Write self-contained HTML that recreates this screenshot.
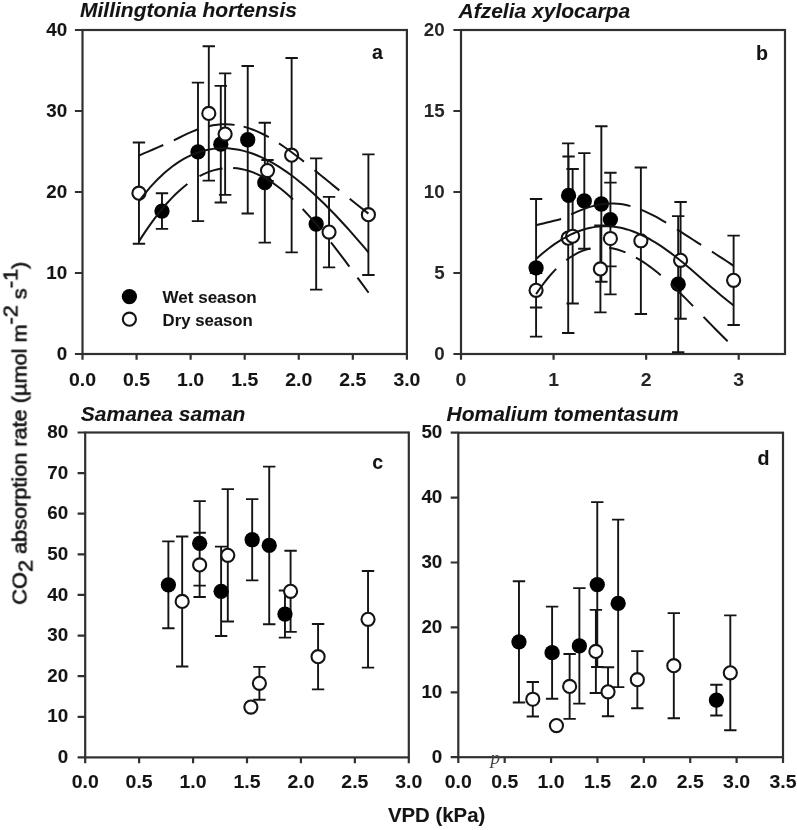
<!DOCTYPE html>
<html lang="en">
<head>
<meta charset="utf-8">
<title>CO2 absorption rate vs VPD</title>
<style>
html,body{margin:0;padding:0;background:#fff;}
body{width:797px;height:830px;overflow:hidden;}
svg{display:block;}
svg text{font-family:"Liberation Sans",Arial,Helvetica,sans-serif;font-weight:bold;fill:#141414;stroke:#141414;stroke-width:0.08px;}
.tk text{font-size:18.8px;}
svg .tb text{stroke:none;fill:#262626;}
.ti{font-size:21.0px;font-style:italic;}
.lt{font-size:19.6px;}
.lg{font-size:17.0px;}
.lb{font-size:19.9px;}
svg text.yl{font-size:20px;font-weight:normal;stroke:#141414;stroke-width:0.62px;}
svg text.pp{font-family:"Liberation Serif","Times New Roman",serif;font-style:italic;font-weight:normal;font-size:19px;fill:#444;stroke:none;}
#plot{filter:blur(0.5px);}
</style>
</head>
<body>
<svg width="797" height="830" viewBox="0 0 797 830">
<rect width="797" height="830" fill="#fff"/>
<g id="plot">
<rect x="82.5" y="30" width="324.4" height="324" fill="none" stroke="#303030" stroke-width="2.2"/>
<path d="M82.5 354V359.8M136.57 354V359.8M190.63 354V359.8M244.7 354V359.8M298.77 354V359.8M352.83 354V359.8M406.9 354V359.8M82.5 354H74.9M82.5 273H74.9M82.5 192H74.9M82.5 111H74.9M82.5 30H74.9" stroke="#303030" stroke-width="2.2" fill="none"/>
<g class="tk" text-anchor="middle">
<text transform="translate(82.5 386) scale(1.035 1)">0.0</text>
<text transform="translate(136.57 386) scale(1.035 1)">0.5</text>
<text transform="translate(190.63 386) scale(1.035 1)">1.0</text>
<text transform="translate(244.7 386) scale(1.035 1)">1.5</text>
<text transform="translate(298.77 386) scale(1.035 1)">2.0</text>
<text transform="translate(352.83 386) scale(1.035 1)">2.5</text>
<text transform="translate(406.9 386) scale(1.035 1)">3.0</text>
</g>
<g class="tk" text-anchor="end">
<text transform="translate(67.2 359.7) scale(1.0 1)">0</text>
<text transform="translate(67.2 278.7) scale(1.0 1)">10</text>
<text transform="translate(67.2 197.7) scale(1.0 1)">20</text>
<text transform="translate(67.2 116.7) scale(1.0 1)">30</text>
<text transform="translate(67.2 35.7) scale(1.0 1)">40</text>
</g>
<text class="ti" x="80" y="17.1">Millingtonia hortensis</text>
<text class="lt" x="372" y="58.7">a</text>
<path d="M161.98 193.22V228.85M155.78 193.22H168.18M155.78 228.85H168.18M197.99 82.65V221.16M191.79 82.65H204.19M191.79 221.16H204.19M220.8 85.89V202.53M214.6 85.89H227M214.6 202.53H227M247.73 66.05V213.46M241.53 66.05H253.93M241.53 213.46H253.93M264.81 122.75V242.63M258.61 122.75H271.01M258.61 242.63H271.01M316.18 158.39V289.61M309.98 158.39H322.38M309.98 289.61H322.38M138.95 142.51V243.76M132.75 142.51H145.15M132.75 243.76H145.15M208.8 46.2V180.66M202.6 46.2H215M202.6 180.66H215M225.13 73.33V194.84M218.93 73.33H231.33M218.93 194.84H231.33M267.52 160V181.06M261.32 160H273.72M261.32 181.06H273.72M291.63 57.95V252.34M285.43 57.95H297.83M285.43 252.34H297.83M329.04 196.86V267.33M322.84 196.86H335.24M322.84 267.33H335.24M368.4 154.34V275.02M362.2 154.34H374.6M362.2 275.02H374.6" stroke="#141414" stroke-width="1.9" fill="none"/>
<circle cx="161.98" cy="211.04" r="7.65" fill="#000"/>
<circle cx="197.99" cy="151.91" r="7.65" fill="#000"/>
<circle cx="220.8" cy="144.21" r="7.65" fill="#000"/>
<circle cx="247.73" cy="139.76" r="7.65" fill="#000"/>
<circle cx="264.81" cy="182.69" r="7.65" fill="#000"/>
<circle cx="316.18" cy="224" r="7.65" fill="#000"/>
<circle cx="138.95" cy="193.13" r="6.55" fill="#fff" stroke="#141414" stroke-width="2.1"/>
<circle cx="208.8" cy="113.43" r="6.55" fill="#fff" stroke="#141414" stroke-width="2.1"/>
<circle cx="225.13" cy="134.08" r="6.55" fill="#fff" stroke="#141414" stroke-width="2.1"/>
<circle cx="267.52" cy="170.54" r="6.55" fill="#fff" stroke="#141414" stroke-width="2.1"/>
<circle cx="291.63" cy="155.15" r="6.55" fill="#fff" stroke="#141414" stroke-width="2.1"/>
<circle cx="329.04" cy="232.09" r="6.55" fill="#fff" stroke="#141414" stroke-width="2.1"/>
<circle cx="368.4" cy="214.68" r="6.55" fill="#fff" stroke="#141414" stroke-width="2.1"/>
<path d="M138.95 201.19L142.65 196.35L146.35 191.77L150.05 187.45L153.75 183.36L157.45 179.53L161.15 175.93L164.85 172.57L168.55 169.44L172.25 166.54L175.96 163.87L179.66 161.42L183.36 159.2L187.06 157.18L190.76 155.38L194.46 153.79L198.16 152.41L201.86 151.23L205.56 150.25L209.26 149.46L212.96 148.87L216.67 148.46L220.37 148.24L224.07 148.21L227.77 148.35L231.47 148.67L235.17 149.15L238.87 149.81L242.57 150.63L246.27 151.62L249.97 152.76L253.68 154.05L257.38 155.5L261.08 157.1L264.78 158.84L268.48 160.72L272.18 162.74L275.88 164.89L279.58 167.18L283.28 169.59L286.98 172.12L290.68 174.78L294.39 177.55L298.09 180.44L301.79 183.43L305.49 186.54L309.19 189.74L312.89 193.05L316.59 196.46L320.29 199.95L323.99 203.54L327.69 207.21L331.4 210.97L335.1 214.8L338.8 218.71L342.5 222.7L346.2 226.75L349.9 230.87L353.6 235.05L357.3 239.29L361 243.59L364.7 247.94L368.4 252.34" stroke="#141414" stroke-width="2.0" fill="none"/>
<path d="M138.95 155.55L143.81 153.44L148.68 151.34L153.54 149.23L158.41 147.13L163.28 145.02" stroke="#141414" stroke-width="2.0" fill="none"/>
<path d="M173.87 140.45L178.59 138L183.3 135.64L188.02 133.42L192.73 131.37L197.45 129.53M208.58 126.18L212.93 125.3L217.27 124.68L221.61 124.32L225.96 124.23L230.3 124.41L234.64 124.87M243.62 126.65L248.66 128.13L253.7 129.94L258.74 132.07L263.77 134.5L268.81 137.19M278.98 143.38L283.97 146.73L288.97 150.26L293.97 153.94L298.96 157.74L303.96 161.64M314.55 170.15L319.51 174.19L324.46 178.25L329.41 182.31L334.36 186.36L339.32 190.39M349.7 198.74L354.37 202.47L359.05 206.18L363.73 209.89L368.4 213.6" stroke="#141414" stroke-width="2.0" fill="none"/>
<path d="M138.95 241.4L142.98 235.11L147.02 229.09L151.06 223.33L155.09 217.83L159.13 212.62L163.17 207.68L167.2 203.02L171.24 198.65L175.28 194.56L179.32 190.76L183.35 187.25L187.39 184.04M199.5 176.15L204.11 173.84L208.71 171.92L213.32 170.37L217.93 169.21L222.53 168.42M233.13 168.01L237.12 168.36L241.12 168.98L245.11 169.87L249.1 171.02L253.1 172.43L257.09 174.09L261.09 175.99L265.08 178.14L269.07 180.53L273.07 183.15L277.06 185.99L281.05 189.05L285.05 192.32L289.04 195.8L293.04 199.46M302.66 209.05L308.57 215.43L314.48 222.13L320.39 229.14M330.99 242.34L335.59 248.27L340.18 254.31L344.78 260.43L349.37 266.62M357.48 277.63L363.05 285.21L368.62 292.76" stroke="#141414" stroke-width="2.0" fill="none"/>
<circle cx="129.4" cy="296.6" r="7.65" fill="#000"/>
<circle cx="129.4" cy="319.2" r="6.55" fill="#fff" stroke="#141414" stroke-width="2.1"/>
<text class="lg" x="162.6" y="302.9">Wet season</text>
<text class="lg" transform="translate(162.6 325.5) scale(0.985 1)">Dry season</text>
<rect x="461" y="30" width="324" height="324" fill="none" stroke="#303030" stroke-width="2.2"/>
<path d="M461 354V359.8M553.57 354V359.8M646.14 354V359.8M738.71 354V359.8M461 354H453.4M461 273H453.4M461 192H453.4M461 111H453.4M461 30H453.4" stroke="#303030" stroke-width="2.2" fill="none"/>
<g class="tk tb" text-anchor="middle">
<text transform="translate(461 386) scale(1.035 1)">0</text>
<text transform="translate(553.57 386) scale(1.035 1)">1</text>
<text transform="translate(646.14 386) scale(1.035 1)">2</text>
<text transform="translate(738.71 386) scale(1.035 1)">3</text>
</g>
<g class="tk tb" text-anchor="end">
<text transform="translate(444.7 359.7) scale(1.0 1)">0</text>
<text transform="translate(444.7 278.7) scale(1.0 1)">5</text>
<text transform="translate(444.7 197.7) scale(1.0 1)">10</text>
<text transform="translate(444.7 116.7) scale(1.0 1)">15</text>
<text transform="translate(444.7 35.7) scale(1.0 1)">20</text>
</g>
<text class="ti" x="458.5" y="18">Afzelia xylocarpa</text>
<text class="lt" x="756" y="60.4">b</text>
<path d="M536.08 198.97V336.67M529.88 198.97H542.28M529.88 336.67H542.28M568.57 156.52V234.28M562.37 156.52H574.77M562.37 234.28H574.77M584.31 153.12V248.7M578.11 153.12H590.51M578.11 248.7H590.51M601.34 126.23V281.75M595.14 126.23H607.54M595.14 281.75H607.54M610.41 172.72V266.36M604.21 172.72H616.61M604.21 266.36H616.61M678.17 216.14V352.22M671.97 216.14H684.37M671.97 352.22H684.37M536.08 273.16V307.51M529.88 273.16H542.28M529.88 307.51H542.28M568.2 143.4V332.94M562 143.4H574.4M562 332.94H574.4M572.64 169V303.46M566.44 169H578.84M566.44 303.46H578.84M600.41 225.53V312.37M594.21 225.53H606.61M594.21 312.37H606.61M610.41 182.6V294.38M604.21 182.6H616.61M604.21 294.38H616.61M640.87 167.54V313.99M634.67 167.54H647.07M634.67 313.99H647.07M680.58 202.04V318.68M674.38 202.04H686.78M674.38 318.68H686.78M733.62 235.58V325M727.42 235.58H739.82M727.42 325H739.82" stroke="#141414" stroke-width="1.9" fill="none"/>
<circle cx="536.08" cy="267.82" r="7.65" fill="#000"/>
<circle cx="568.57" cy="195.4" r="7.65" fill="#000"/>
<circle cx="584.31" cy="200.91" r="7.65" fill="#000"/>
<circle cx="601.34" cy="203.99" r="7.65" fill="#000"/>
<circle cx="610.41" cy="219.54" r="7.65" fill="#000"/>
<circle cx="678.17" cy="284.18" r="7.65" fill="#000"/>
<circle cx="536.08" cy="290.33" r="6.55" fill="#fff" stroke="#141414" stroke-width="2.1"/>
<circle cx="568.2" cy="238.17" r="6.55" fill="#fff" stroke="#141414" stroke-width="2.1"/>
<circle cx="572.64" cy="236.23" r="6.55" fill="#fff" stroke="#141414" stroke-width="2.1"/>
<circle cx="600.41" cy="268.95" r="6.55" fill="#fff" stroke="#141414" stroke-width="2.1"/>
<circle cx="610.41" cy="238.49" r="6.55" fill="#fff" stroke="#141414" stroke-width="2.1"/>
<circle cx="640.87" cy="240.76" r="6.55" fill="#fff" stroke="#141414" stroke-width="2.1"/>
<circle cx="680.58" cy="260.36" r="6.55" fill="#fff" stroke="#141414" stroke-width="2.1"/>
<circle cx="733.62" cy="280.29" r="6.55" fill="#fff" stroke="#141414" stroke-width="2.1"/>
<path d="M536.08 258.92L539.21 256.15L542.35 253.48L545.48 250.92L548.62 248.48L551.75 246.14L554.89 243.93L558.03 241.83L561.16 239.86L564.3 238.01L567.43 236.3L570.57 234.71L573.7 233.25L576.84 231.93L579.97 230.75L583.11 229.7L586.25 228.78L589.38 228.01L592.52 227.37L595.65 226.87L598.79 226.52L601.92 226.29L605.06 226.21L608.2 226.27L611.33 226.46L614.47 226.78L617.6 227.24L620.74 227.83L623.87 228.56L627.01 229.41L630.15 230.39L633.28 231.49L636.42 232.71L639.55 234.05L642.69 235.51L645.82 237.08L648.96 238.75L652.1 240.53L655.23 242.41L658.37 244.39L661.5 246.45L664.64 248.61L667.77 250.84L670.91 253.15L674.05 255.54L677.18 257.99L680.32 260.49L683.45 263.06L686.59 265.66L689.72 268.31L692.86 271L695.99 273.71L699.13 276.43L702.27 279.18L705.4 281.92L708.54 284.66L711.67 287.39L714.81 290.11L717.94 292.79L721.08 295.43L724.22 298.03L727.35 300.57L730.49 303.05L733.62 305.45" stroke="#141414" stroke-width="2.0" fill="none"/>
<path d="M536.08 225.21L539.66 224.33L543.24 223.45L546.83 222.57L550.41 221.69L553.99 220.81L557.58 219.93L561.16 219.05" stroke="#141414" stroke-width="2.0" fill="none"/>
<path d="M571.16 214.31L574.46 212.84L577.75 211.43L581.05 210.08L584.35 208.82L587.64 207.66L590.94 206.63L594.24 205.72L597.53 204.96L600.83 204.35L604.13 203.89L607.42 203.6L610.72 203.47L614.02 203.5L617.31 203.71L620.61 204.07L623.91 204.6L627.2 205.28L630.5 206.11M640.77 209.61L644.4 211.14L648.02 212.8L651.64 214.59L655.27 216.48L658.89 218.47L662.51 220.54L666.14 222.69M676.97 229.39L681 231.96L685.02 234.54L689.05 237.13L693.08 239.72L697.1 242.3L701.13 244.86M711.96 251.71L715.57 254L719.18 256.29L722.79 258.61L726.4 260.98L730.01 263.4L733.62 265.9" stroke="#141414" stroke-width="2.0" fill="none"/>
<path d="M536.08 294.11L540.09 288.24L544.11 282.79L548.13 277.76L552.15 273.14L556.16 268.93M566.25 260.09L570.27 257.25L574.28 254.78L578.29 252.68L582.3 250.93L586.31 249.53L590.32 248.48M609.11 247.8L613.21 248.52L617.31 249.54L621.4 250.83L625.5 252.4M635.96 257.54L639.5 259.62L643.05 261.87L646.59 264.27L650.14 266.82L653.68 269.51L657.22 272.33L660.77 275.27M671.14 284.47L674.79 287.91L678.45 291.42L682.11 295.01L685.76 298.66L689.42 302.35L693.08 306.09M703.54 316.89L707.55 321.04L711.56 325.17L715.57 329.26L719.58 333.3L723.59 337.28L727.61 341.17" stroke="#141414" stroke-width="2.0" fill="none"/>
<rect x="85.2" y="432.5" width="323.6" height="324.9" fill="none" stroke="#303030" stroke-width="2.2"/>
<path d="M85.2 757.4V763.2M139.13 757.4V763.2M193.07 757.4V763.2M247 757.4V763.2M300.93 757.4V763.2M354.87 757.4V763.2M408.8 757.4V763.2M85.2 757.4H77.6M85.2 716.79H77.6M85.2 676.17H77.6M85.2 635.56H77.6M85.2 594.95H77.6M85.2 554.34H77.6M85.2 513.72H77.6M85.2 473.11H77.6M85.2 432.5H77.6" stroke="#303030" stroke-width="2.2" fill="none"/>
<g class="tk" text-anchor="middle">
<text transform="translate(85.2 788) scale(1.035 1)">0.0</text>
<text transform="translate(139.13 788) scale(1.035 1)">0.5</text>
<text transform="translate(193.07 788) scale(1.035 1)">1.0</text>
<text transform="translate(247 788) scale(1.035 1)">1.5</text>
<text transform="translate(300.93 788) scale(1.035 1)">2.0</text>
<text transform="translate(354.87 788) scale(1.035 1)">2.5</text>
<text transform="translate(408.8 788) scale(1.035 1)">3.0</text>
</g>
<g class="tk" text-anchor="end">
<text transform="translate(68.1 763.1) scale(1.0 1)">0</text>
<text transform="translate(68.1 722.49) scale(1.0 1)">10</text>
<text transform="translate(68.1 681.88) scale(1.0 1)">20</text>
<text transform="translate(68.1 641.26) scale(1.0 1)">30</text>
<text transform="translate(68.1 600.65) scale(1.0 1)">40</text>
<text transform="translate(68.1 560.04) scale(1.0 1)">50</text>
<text transform="translate(68.1 519.42) scale(1.0 1)">60</text>
<text transform="translate(68.1 478.81) scale(1.0 1)">70</text>
<text transform="translate(68.1 438.2) scale(1.0 1)">80</text>
</g>
<text class="ti" x="80.8" y="421">Samanea saman</text>
<text class="lt" x="372.2" y="468.7">c</text>
<path d="M168.37 541.34V628.25M162.17 541.34H174.57M162.17 628.25H174.57M199.65 501.14V585.61M193.45 501.14H205.85M193.45 585.61H205.85M221.11 546.62V635.97M214.91 546.62H227.31M214.91 635.97H227.31M252.18 499.1V580.33M245.98 499.1H258.38M245.98 580.33H258.38M269.22 466.61V624.19M263.02 466.61H275.42M263.02 624.19H275.42M284.97 590.48V637.59M278.77 590.48H291.17M278.77 637.59H291.17M182.17 536.47V666.43M175.97 536.47H188.37M175.97 666.43H188.37M199.65 532.81V596.98M193.45 532.81H205.85M193.45 596.98H205.85M227.8 489.15V621.55M221.6 489.15H234M221.6 621.55H234M259.4 666.83V699.73M253.2 666.83H265.6M253.2 699.73H265.6M290.58 550.68V631.91M284.38 550.68H296.78M284.38 631.91H296.78M318.08 623.99V689.37M311.88 623.99H324.28M311.88 689.37H324.28M368.03 570.99V667.65M361.83 570.99H374.23M361.83 667.65H374.23" stroke="#141414" stroke-width="1.9" fill="none"/>
<circle cx="168.37" cy="584.8" r="7.65" fill="#000"/>
<circle cx="199.65" cy="543.37" r="7.65" fill="#000"/>
<circle cx="221.11" cy="591.29" r="7.65" fill="#000"/>
<circle cx="252.18" cy="539.72" r="7.65" fill="#000"/>
<circle cx="269.22" cy="545.4" r="7.65" fill="#000"/>
<circle cx="284.97" cy="614.04" r="7.65" fill="#000"/>
<circle cx="182.17" cy="601.45" r="6.55" fill="#fff" stroke="#141414" stroke-width="2.1"/>
<circle cx="199.65" cy="564.9" r="6.55" fill="#fff" stroke="#141414" stroke-width="2.1"/>
<circle cx="227.8" cy="555.35" r="6.55" fill="#fff" stroke="#141414" stroke-width="2.1"/>
<circle cx="250.88" cy="707.04" r="6.55" fill="#fff" stroke="#141414" stroke-width="2.1"/>
<circle cx="259.4" cy="683.28" r="6.55" fill="#fff" stroke="#141414" stroke-width="2.1"/>
<circle cx="290.58" cy="591.29" r="6.55" fill="#fff" stroke="#141414" stroke-width="2.1"/>
<circle cx="318.08" cy="656.68" r="6.55" fill="#fff" stroke="#141414" stroke-width="2.1"/>
<circle cx="368.03" cy="619.32" r="6.55" fill="#fff" stroke="#141414" stroke-width="2.1"/>
<rect x="458.3" y="432.7" width="324.7" height="324.5" fill="none" stroke="#303030" stroke-width="2.2"/>
<path d="M458.3 757.2V763M504.69 757.2V763M551.07 757.2V763M597.46 757.2V763M643.84 757.2V763M690.23 757.2V763M736.61 757.2V763M783 757.2V763M458.3 757.2H450.7M458.3 692.3H450.7M458.3 627.4H450.7M458.3 562.5H450.7M458.3 497.6H450.7M458.3 432.7H450.7" stroke="#303030" stroke-width="2.2" fill="none"/>
<g class="tk" text-anchor="middle">
<text transform="translate(458.3 787.8) scale(1.035 1)">0.0</text>
<text transform="translate(504.69 787.8) scale(1.035 1)">0.5</text>
<text transform="translate(551.07 787.8) scale(1.035 1)">1.0</text>
<text transform="translate(597.46 787.8) scale(1.035 1)">1.5</text>
<text transform="translate(643.84 787.8) scale(1.035 1)">2.0</text>
<text transform="translate(690.23 787.8) scale(1.035 1)">2.5</text>
<text transform="translate(736.61 787.8) scale(1.035 1)">3.0</text>
<text transform="translate(783 787.8) scale(1.035 1)">3.5</text>
</g>
<g class="tk" text-anchor="end">
<text transform="translate(442.3 762.9) scale(1.0 1)">0</text>
<text transform="translate(442.3 698) scale(1.0 1)">10</text>
<text transform="translate(442.3 633.1) scale(1.0 1)">20</text>
<text transform="translate(442.3 568.2) scale(1.0 1)">30</text>
<text transform="translate(442.3 503.3) scale(1.0 1)">40</text>
<text transform="translate(442.3 438.4) scale(1.0 1)">50</text>
</g>
<text class="ti" x="446.5" y="420.6">Homalium tomentasum</text>
<text class="lt" x="757.4" y="464.9">d</text>
<path d="M518.97 581.19V702.55M512.77 581.19H525.17M512.77 702.55H525.17M552.09 606.63V698.79M545.89 606.63H558.29M545.89 698.79H558.29M579.37 588.14V703.66M573.17 588.14H585.57M573.17 703.66H585.57M597.27 502.14V666.99M591.07 502.14H603.47M591.07 666.99H603.47M618.15 519.67V687.11M611.95 519.67H624.35M611.95 687.11H624.35M716.39 684.71V715.47M710.19 684.71H722.59M710.19 715.47H722.59M532.8 682.05V716.44M526.6 682.05H539M526.6 716.44H539M569.63 654.01V718.91M563.43 654.01H575.83M563.43 718.91H575.83M595.88 609.88V692.95M589.68 609.88H602.08M589.68 692.95H602.08M608.03 667.31V716.25M601.83 667.31H614.23M601.83 716.25H614.23M637.35 651.09V708.2M631.15 651.09H643.55M631.15 708.2H643.55M673.81 613.12V718.26M667.61 613.12H680.01M667.61 718.26H680.01M730.31 615.39V730.27M724.11 615.39H736.51M724.11 730.27H736.51" stroke="#141414" stroke-width="1.9" fill="none"/>
<circle cx="518.97" cy="641.87" r="7.65" fill="#000"/>
<circle cx="552.09" cy="652.71" r="7.65" fill="#000"/>
<circle cx="579.37" cy="645.9" r="7.65" fill="#000"/>
<circle cx="597.27" cy="584.57" r="7.65" fill="#000"/>
<circle cx="618.15" cy="603.39" r="7.65" fill="#000"/>
<circle cx="716.39" cy="700.09" r="7.65" fill="#000"/>
<circle cx="532.8" cy="699.24" r="6.55" fill="#fff" stroke="#141414" stroke-width="2.1"/>
<circle cx="556.45" cy="725.53" r="6.55" fill="#fff" stroke="#141414" stroke-width="2.1"/>
<circle cx="569.63" cy="686.46" r="6.55" fill="#fff" stroke="#141414" stroke-width="2.1"/>
<circle cx="595.88" cy="651.41" r="6.55" fill="#fff" stroke="#141414" stroke-width="2.1"/>
<circle cx="608.03" cy="691.78" r="6.55" fill="#fff" stroke="#141414" stroke-width="2.1"/>
<circle cx="637.35" cy="679.64" r="6.55" fill="#fff" stroke="#141414" stroke-width="2.1"/>
<circle cx="673.81" cy="665.69" r="6.55" fill="#fff" stroke="#141414" stroke-width="2.1"/>
<circle cx="730.31" cy="672.83" r="6.55" fill="#fff" stroke="#141414" stroke-width="2.1"/>
<text class="pp" x="490.6" y="763.5">p</text>
<text class="lb" text-anchor="middle" transform="translate(436.6 821.7) scale(1.025 1)">VPD (kPa)</text>
<text class="yl" text-anchor="middle" transform="translate(26.5 433.2) rotate(-90) scale(1.085 1)">CO<tspan dy="5.9">2</tspan><tspan dy="-5.9"> absorption rate (µmol m</tspan><tspan dy="-8.9">-2</tspan><tspan dy="8.9"> s</tspan><tspan dy="-8.9">-1</tspan><tspan dy="8.9">)</tspan></text>
</g>
</svg>
</body>
</html>
